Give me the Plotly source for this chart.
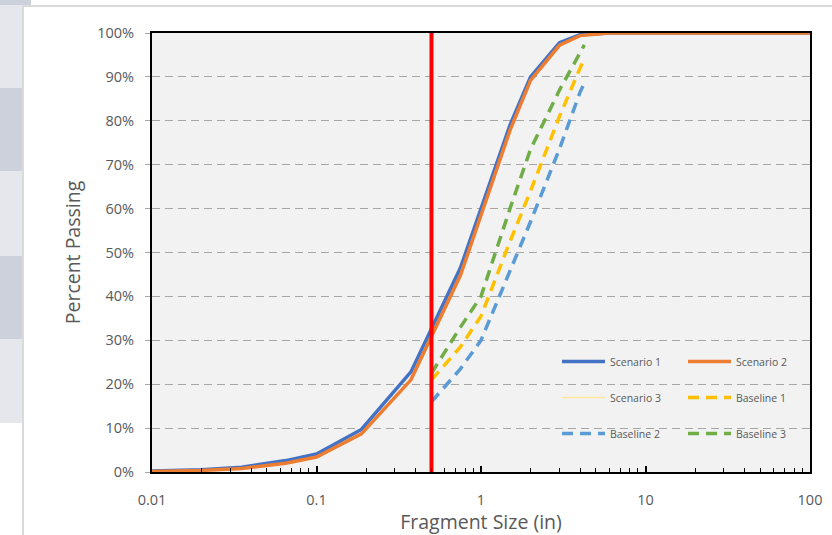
import plotly.graph_objects as go

# ---------------- data ----------------
scenario1_size = [0.01, 0.02, 0.035, 0.065, 0.1, 0.1875, 0.375, 0.75, 1.5, 2, 3, 4, 6, 100]
scenario1_pct = [0.2, 0.5, 1.1, 2.6, 4.1, 9.7, 22.8, 46.5, 79, 90, 97.8, 99.6, 100, 100]

scenario2_size = [0.01, 0.02, 0.035, 0.065, 0.1, 0.1875, 0.375, 0.75, 1.5, 2, 3, 4, 6, 100]
scenario2_pct = [0.1, 0.35, 0.8, 2.0, 3.4, 8.7, 21.0, 44.8, 77.8, 89.2, 97.2, 99.4, 100, 100]

scenario3_size = [None]
scenario3_pct = [None]

baseline_size = [0.5, 0.75, 1, 1.5, 2, 3, 4, 4.25]
baseline1_pct = [21, 28.5, 35.5, 52.5, 64, 81, 92, 94.2]
baseline2_pct = [16, 23.5, 30, 46, 57, 73.6, 86.5, 88.6]
baseline3_pct = [22.5, 33, 40, 60, 73.5, 87, 95.5, 97.3]

cutoff_size = [0.5, 0.5]
cutoff_pct = [0, 100]

x_tickvals = [0.01, 0.1, 1, 10, 100]
x_ticktext = ["0.01", "0.1", "1", "10", "100"]
y_tickvals = [0, 10, 20, 30, 40, 50, 60, 70, 80, 90, 100]
y_ticktext = ["0%", "10%", "20%", "30%", "40%", "50%", "60%", "70%", "80%", "90%", "100%"]

# ---------------- layout geometry ----------------
W, H = 832, 535
L, R, T, B = 152, 810, 33, 472

def px_x(p):
    return (p - L) / (R - L)

def px_y(p):
    return (B - p) / (B - T)

FONT = "Open Sans"
GREY_TXT = "#595959"

fig = go.Figure()

fig.add_trace(go.Scatter(x=scenario1_size, y=scenario1_pct, mode="lines", name="Scenario 1",
                         line=dict(color="#4472C4", width=3.5), legend="legend", legendgroup="s1"))
fig.add_trace(go.Scatter(x=scenario2_size, y=scenario2_pct, mode="lines", name="Scenario 2",
                         line=dict(color="#ED7D31", width=3.5), legend="legend2", legendgroup="s2"))
fig.add_trace(go.Scatter(x=scenario3_size, y=scenario3_pct, mode="lines", name="Scenario 3",
                         line=dict(color="#FFE699", width=1.5), legend="legend", legendgroup="s3"))
fig.add_trace(go.Scatter(x=baseline_size, y=baseline1_pct, mode="lines", name="Baseline 1",
                         line=dict(color="#FFC000", width=3.5, dash="11px,7px"), legend="legend2", legendgroup="b1"))
fig.add_trace(go.Scatter(x=baseline_size, y=baseline2_pct, mode="lines", name="Baseline 2",
                         line=dict(color="#5B9BD5", width=3.5, dash="11px,7px"), legend="legend", legendgroup="b2"))
fig.add_trace(go.Scatter(x=baseline_size, y=baseline3_pct, mode="lines", name="Baseline 3",
                         line=dict(color="#70AD47", width=3.5, dash="11px,7px"), legend="legend2", legendgroup="b3"))
fig.add_trace(go.Scatter(x=cutoff_size, y=cutoff_pct, mode="lines", showlegend=False,
                         line=dict(color="#FF0000", width=4)))

# spreadsheet chrome around the chart
shapes = [
    dict(type="rect", xref="paper", yref="paper", x0=px_x(0), x1=px_x(22), y0=px_y(423), y1=px_y(0),
         fillcolor="#E6E7EC", line=dict(width=0), layer="below"),
    dict(type="rect", xref="paper", yref="paper", x0=px_x(0), x1=px_x(31), y0=px_y(5), y1=px_y(0),
         fillcolor="#CDD1DC", line=dict(width=0), layer="below"),
    dict(type="rect", xref="paper", yref="paper", x0=px_x(0), x1=px_x(22), y0=px_y(171), y1=px_y(88),
         fillcolor="#CDD1DC", line=dict(width=0), layer="below"),
    dict(type="rect", xref="paper", yref="paper", x0=px_x(0), x1=px_x(22), y0=px_y(339), y1=px_y(256),
         fillcolor="#CDD1DC", line=dict(width=0), layer="below"),
    dict(type="line", xref="paper", yref="paper", x0=px_x(22), x1=px_x(832), y0=px_y(6), y1=px_y(6),
         line=dict(color="#DADADA", width=2), layer="below"),
    dict(type="line", xref="paper", yref="paper", x0=px_x(23), x1=px_x(23), y0=px_y(535), y1=px_y(6),
         line=dict(color="#DADADA", width=2), layer="below"),
]

legend_common = dict(
    orientation="v", xanchor="left", yanchor="top",
    bgcolor="rgba(0,0,0,0)", borderwidth=0,
    font=dict(family=FONT, size=10.5, color=GREY_TXT),
    itemwidth=43, traceorder="grouped", tracegroupgap=17,
)

fig.update_layout(
    width=W, height=H,
    margin=dict(l=L, r=W - R, t=T, b=H - B, pad=0, autoexpand=False),
    paper_bgcolor="white",
    plot_bgcolor="#F2F2F2",
    font=dict(family=FONT, color=GREY_TXT),
    shapes=shapes,
    legend=dict(x=px_x(557), y=px_y(347), **legend_common),
    legend2=dict(x=px_x(683), y=px_y(347), **legend_common),
    xaxis=dict(
        type="log", range=[-2, 2], automargin=False,
        tickvals=x_tickvals, ticktext=x_ticktext,
        ticks="inside", ticklen=6, tickwidth=1.5, tickcolor="black",
        minor=dict(ticks="inside", ticklen=4, tickwidth=1.2, tickcolor="black", dtick="D1", showgrid=False),
        showgrid=False, zeroline=False,
        showline=True, linecolor="black", linewidth=2, mirror=True,
        tickfont=dict(family=FONT, size=14.5, color=GREY_TXT),
        ticklabelstandoff=14,
        title=dict(text="Fragment Size (in)", font=dict(family=FONT, size=19.5, color=GREY_TXT), standoff=6),
    ),
    yaxis=dict(
        range=[0, 100], automargin=False,
        tickvals=y_tickvals, ticktext=y_ticktext,
        ticks="outside", ticklen=5, tickcolor="#A6A6A6",
        showgrid=True, gridcolor="#A6A6A6", gridwidth=1.3, griddash="8px,5px",
        zeroline=False,
        showline=True, linecolor="black", linewidth=2, mirror=True,
        tickfont=dict(family=FONT, size=14.5, color=GREY_TXT),
        ticklabelstandoff=8,
        title=dict(text="Percent Passing", font=dict(family=FONT, size=19.5, color=GREY_TXT), standoff=11),
    ),
)

fig.write_html("out.html", config={"displayModeBar": False},
               post_script="document.body.style.margin='0';")
